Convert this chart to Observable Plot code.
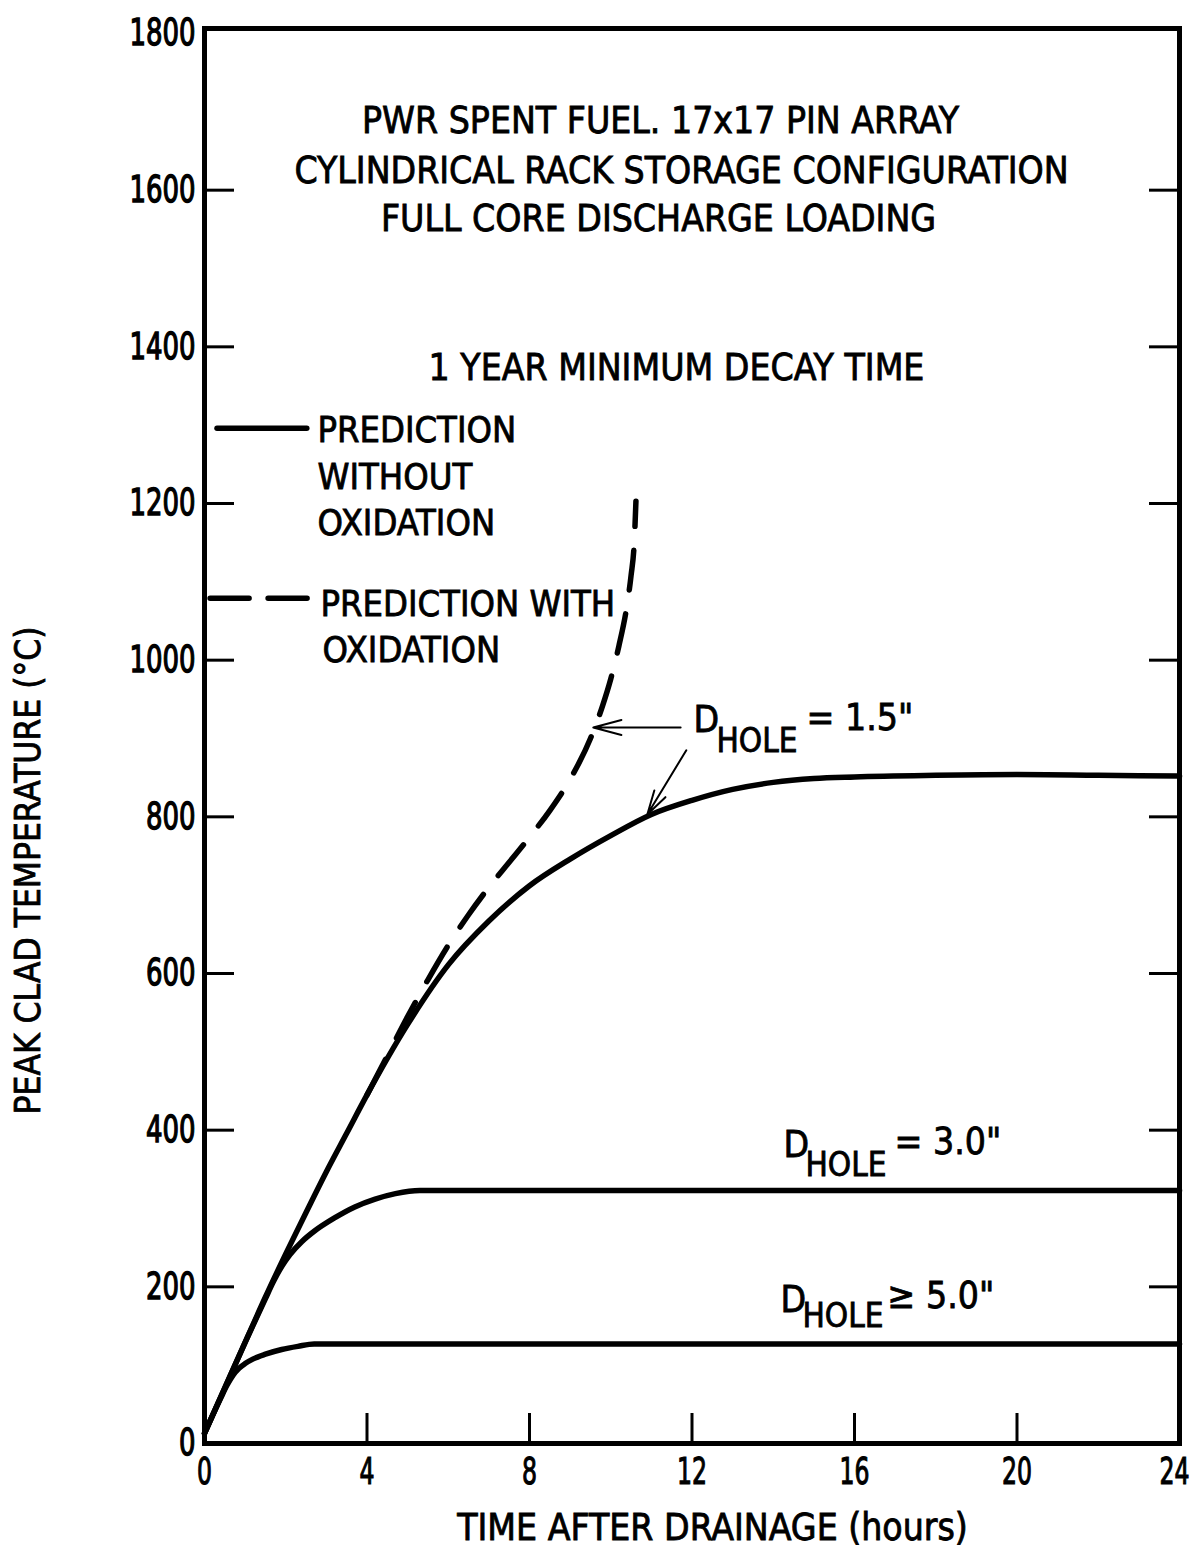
<!DOCTYPE html>
<html>
<head>
<meta charset="utf-8">
<script src="https://cdn.jsdelivr.net/npm/d3@7"></script>
<script src="https://cdn.jsdelivr.net/npm/@observablehq/plot@0.6"></script>
<style>
  html, body { margin: 0; padding: 0; background: #fff; }
</style>
</head>
<body>
<div id="chart"></div>
<script>
// Peak clad temperature (°C) against time after drainage (hours)
// D_HOLE >= 5.0"
const hole50Hours = [0, 0.2, 0.4, 0.55, 0.7, 0.85, 1.0, 1.2, 1.5, 1.9, 2.3, 2.7, 3.2, 6, 12, 18, 24];
const hole50Temp  = [13, 36, 58, 74, 87, 96, 102, 108, 114, 120, 124, 127, 127, 127, 127, 127, 127];
// D_HOLE = 3.0"
const hole30Hours = [0, 0.5, 1.0, 1.5, 1.7, 1.9, 2.1, 2.4, 2.7, 3.2, 3.7, 4.2, 4.7, 5.3, 8, 12, 16, 20, 24];
const hole30Temp  = [13, 71, 129, 185, 207, 226, 241, 258, 271, 288, 302, 312, 319, 323, 323, 323, 323, 323, 323];
// D_HOLE = 1.5", prediction without oxidation
const hole15Hours = [0, 0.5, 1, 1.5, 2, 2.5, 3, 3.5, 4, 5, 6, 7, 8, 9, 10, 11, 12, 13, 14, 15, 16, 18, 20, 22, 24];
const hole15Temp  = [13, 71, 129, 187, 242, 295, 347, 396, 445, 535, 611, 667, 712, 746, 776, 803, 821, 835, 844, 849, 851, 853, 854, 853, 852];
// D_HOLE = 1.5", prediction with oxidation
const oxidHours = [4, 4.5, 5, 5.5, 6, 6.5, 7, 7.5, 8, 8.5, 9, 9.5, 9.8, 10, 10.2, 10.4, 10.5, 10.58, 10.62];
const oxidTemp  = [445, 495, 545, 592, 636, 675, 710, 742, 774, 808, 848, 900, 942, 976, 1018, 1070, 1108, 1152, 1203];

// Axis ticks
const xTicks = [0, 4, 8, 12, 16, 20, 24];
const yTicks = [0, 200, 400, 600, 800, 1000, 1200, 1400, 1600, 1800];

// Text
const titleLines = [
  "PWR SPENT FUEL. 17x17 PIN ARRAY",
  "CYLINDRICAL RACK STORAGE CONFIGURATION",
  "FULL CORE DISCHARGE LOADING",
  "1 YEAR MINIMUM DECAY TIME"
];
const legendLines = ["PREDICTION", "WITHOUT", "OXIDATION", "PREDICTION WITH", "OXIDATION"];
const holeLabels = [
  {sub: "HOLE", rel: "= 1.5\""},
  {sub: "HOLE", rel: "= 3.0\""},
  {sub: "HOLE", rel: "\u2265 5.0\""}
];
const xLabel = "TIME AFTER DRAINAGE (hours)";
const yLabel = "PEAK CLAD TEMPERATURE (\u00B0C)";

const series = (hours, temps, name) => hours.map((h, i) => ({hours: h, temp: temps[i], name}));
const solidRows = [
  ...series(hole50Hours, hole50Temp, "5.0"),
  ...series(hole30Hours, hole30Temp, "3.0"),
  ...series(hole15Hours, hole15Temp, "1.5")
];
const oxidRows = series(oxidHours, oxidTemp, "1.5 oxidation");

// ---- layout ----
const W = 1202, H = 1551;
const M = {top: 28, right: 23, bottom: 108, left: 204};
const frameW = W - M.left - M.right;
const frameH = H - M.top - M.bottom;
const FONT = `"Liberation Sans Narrow", "DejaVu Sans Condensed", "Arial Narrow", sans-serif`;
const TICK = 30;

// pixel offsets from the top-left frame corner
const titlePos = [[456, 93], [477, 143], [454, 191], [472, 340]];
const legendPos = [[113, 402], [113, 449], [113, 495], [116, 576], [118, 622]];
const holePos = [
  {d: [489, 692], sub: [512, 713], rel: [602, 690]},
  {d: [579, 1117], sub: [601, 1137], rel: [690, 1114]},
  {d: [576, 1272], sub: [598, 1288], rel: [683, 1268]}
];
// legend key lines and leader arrows, in chart units
const legendKeys = [
  {x1: 0.32, x2: 2.53, y: 1296, dash: null},
  {x1: 0.15, x2: 2.68, y: 1079, dash: "39,19"}
];
const leaders = [
  {x1: 11.72, y1: 914, x2: 9.57, y2: 914},
  {x1: 11.86, y1: 885, x2: 10.9, y2: 803}
];

const note = (text, [dx, dy], o = {}) => Plot.text([text], {
  frameAnchor: "top-left", dx, dy, textAnchor: "start", lineAnchor: "middle",
  fontSize: 36, fill: "black", ...o
});

const chart = Plot.plot({
  width: W,
  height: H,
  marginTop: M.top,
  marginRight: M.right,
  marginBottom: M.bottom,
  marginLeft: M.left,
  style: {fontFamily: FONT, background: "white", color: "black"},
  x: {domain: [0, 24]},
  y: {domain: [0, 1800], range: [H - M.bottom, 33]},
  marks: [
    // inward tick marks on left, right and bottom edges
    Plot.tickY(yTicks.slice(1, -1), {y: d => d, insetRight: frameW - TICK, strokeWidth: 3, stroke: "black"}),
    Plot.tickY(yTicks.slice(1, -1), {y: d => d, insetLeft: frameW - TICK, strokeWidth: 3, stroke: "black"}),
    Plot.tickX(xTicks.slice(1, -1), {x: d => d, insetTop: frameH - TICK, strokeWidth: 3, stroke: "black"}),
    Plot.axisY({ticks: yTicks, tickSize: 0, tickPadding: 9, tickFormat: d3.format("d"), fontSize: 37, label: null}),
    Plot.axisX({ticks: xTicks, tickSize: 0, tickPadding: 14, tickFormat: d3.format("d"), fontSize: 37, label: null}),
    Plot.frame({stroke: "black", strokeWidth: 5}),
    // curves
    Plot.line(solidRows, {x: "hours", y: "temp", z: "name", curve: "monotone-x", stroke: "black", strokeWidth: 5.5, strokeLinecap: "round"}),
    Plot.line(oxidRows, {x: "hours", y: "temp", curve: "monotone-x", stroke: "black", strokeWidth: 5.5, strokeLinecap: "round", strokeDasharray: "40,24"}),
    // legend keys
    ...legendKeys.map(k => Plot.ruleY([k.y], {x1: k.x1, x2: k.x2, stroke: "black", strokeWidth: 5.5, strokeLinecap: "round", strokeDasharray: k.dash})),
    // leader arrows
    Plot.arrow(leaders, {x1: "x1", y1: "y1", x2: "x2", y2: "y2", stroke: "black", strokeWidth: 2, headLength: 22, headAngle: 30}),
    // titles
    ...titleLines.map((t, i) => note(t, titlePos[i], {textAnchor: "middle", fontSize: 37})),
    ...legendLines.map((t, i) => note(t, legendPos[i], {fontSize: 36})),
    ...holeLabels.flatMap((l, i) => [
      note("D", holePos[i].d, {fontSize: 37}),
      note(l.sub, holePos[i].sub, {fontSize: 33}),
      note(l.rel, holePos[i].rel, {fontSize: 37})
    ]),
    note(xLabel, [508, 1500], {textAnchor: "middle", fontSize: 37}),
    note(yLabel, [-176, 842], {textAnchor: "middle", fontSize: 35, rotate: -90})
  ]
});

// heavier lettering throughout
d3.select(chart).selectAll("text").attr("stroke", "black").attr("stroke-width", 0.8);

// narrow the tick numerals to the condensed lettering of the axes
d3.select(chart).selectAll('g[aria-label="y-axis tick label"] text')
  .attr("stroke-width", 1.3)
  .each(function () {
    d3.select(this).attr("textLength", this.textContent.length * 16.5).attr("lengthAdjust", "spacingAndGlyphs");
  });
d3.select(chart).selectAll('g[aria-label="x-axis tick label"] text')
  .attr("stroke-width", 1.1)
  .each(function () {
    d3.select(this).attr("textLength", this.textContent.length * 15).attr("lengthAdjust", "spacingAndGlyphs");
    if (this.textContent === "24") d3.select(this).attr("dx", -5);
  });

document.getElementById("chart").append(chart);
</script>
</body>
</html>
